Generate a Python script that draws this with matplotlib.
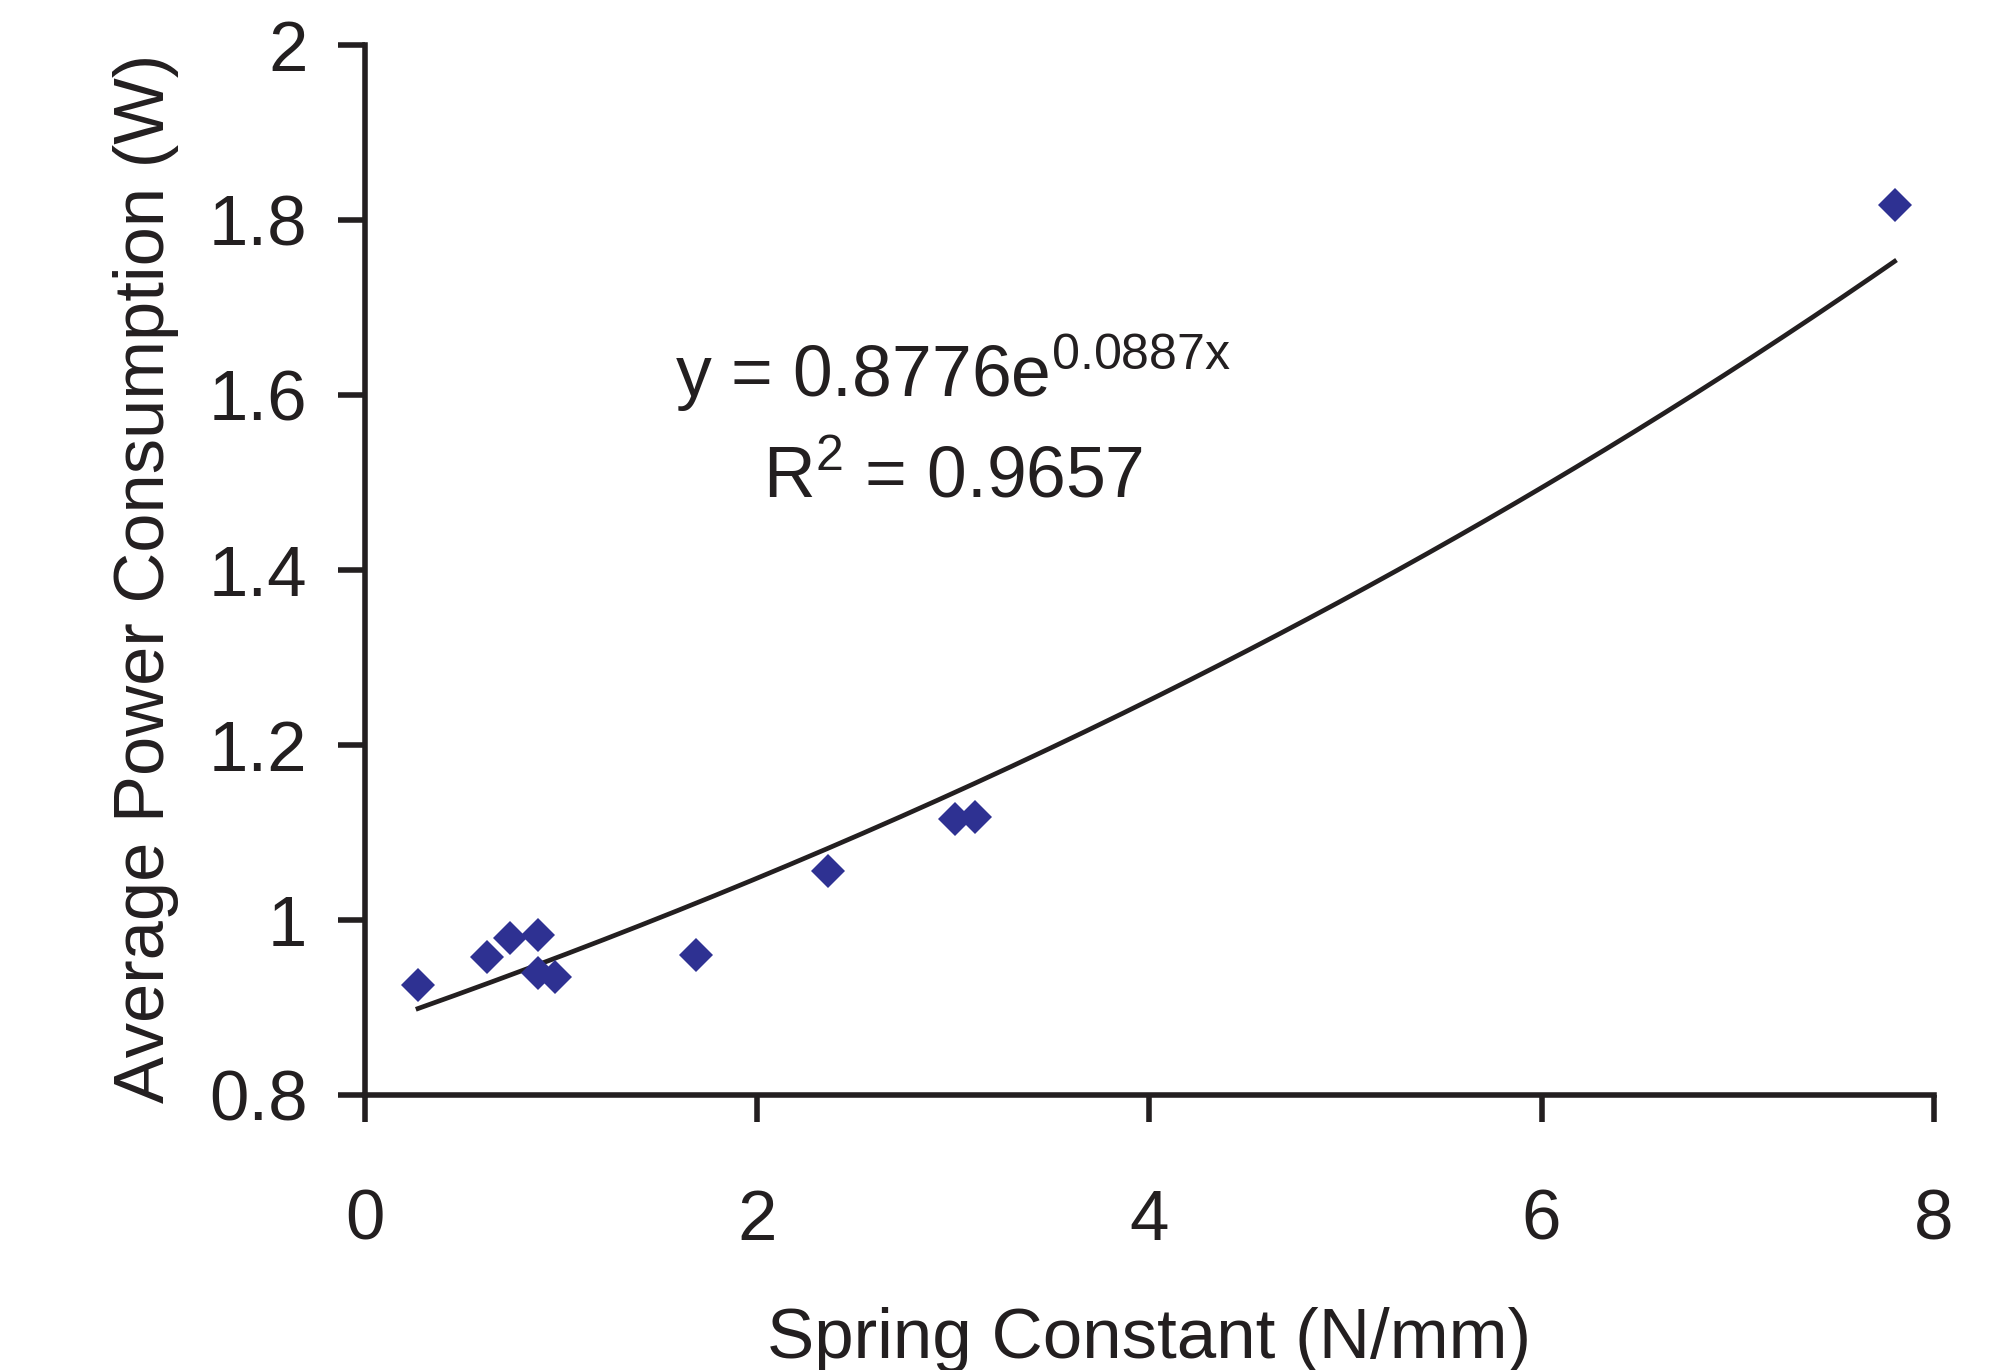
import numpy as np
import matplotlib
matplotlib.use("Agg")
import matplotlib.pyplot as plt
from matplotlib.ticker import FixedLocator, FuncFormatter

# data
spring_k = [0.27, 0.62, 0.74, 0.88, 0.88, 0.97, 1.69, 2.36, 3.01, 3.11, 7.80]
power = [0.926, 0.958, 0.979, 0.983, 0.939, 0.935, 0.960, 1.056, 1.116, 1.118, 1.817]

# exponential trendline shown on the chart
fit_a = 0.8776
fit_b = 0.0887
fit_r2 = 0.9657

x_ticks = [0, 2, 4, 6, 8]
y_ticks = [0.8, 1.0, 1.2, 1.4, 1.6, 1.8, 2.0]

ink = "#231F20"
marker_col = "#2E3192"

plt.rcParams["font.family"] = ["Liberation Sans", "DejaVu Sans"]
plt.rcParams["mathtext.fontset"] = "custom"
plt.rcParams["mathtext.rm"] = "Liberation Sans"
plt.rcParams["mathtext.it"] = "Liberation Sans"
plt.rcParams["mathtext.default"] = "regular"
plt.rcParams["text.color"] = ink

fig = plt.figure(figsize=(20.06, 13.70), dpi=100)
ax = fig.add_axes([0.182, 0.2007, 0.782, 0.7663])

# trendline
xs = np.linspace(min(spring_k), max(spring_k), 200)
ax.plot(xs, fit_a * np.exp(fit_b * xs), color=ink, lw=3.4, zorder=2)

# measured points
ax.plot(spring_k, power, linestyle="none", marker="D", ms=17,
        color=marker_col, markeredgewidth=0, zorder=3)

ax.set_xlim(0, 8)
ax.set_ylim(0.8, 2.0)
ax.xaxis.set_major_locator(FixedLocator(x_ticks))
ax.yaxis.set_major_locator(FixedLocator(y_ticks))
ax.yaxis.set_major_formatter(FuncFormatter(lambda v, p: f"{v:g}"))

for s in ("top", "right"):
    ax.spines[s].set_visible(False)
for s in ("left", "bottom"):
    ax.spines[s].set_linewidth(4.0)
    ax.spines[s].set_color(ink)

ax.tick_params(axis="both", direction="out", length=19.5, width=4.0,
               color=ink, labelsize=51, labelcolor=ink)
ax.tick_params(axis="x", pad=48)
ax.tick_params(axis="y", pad=22)

fig.text(0.573, 0.009, "Spring Constant (N/mm)", fontsize=51,
         ha="center", va="baseline")
fig.text(0.073, 0.578, "Average Power Consumption (W)", fontsize=50.8,
         rotation=90, ha="center", va="center")

fig.text(0.475, 0.710, r"y = 0.8776e$^{0.0887x}$", fontsize=51.5,
         ha="center", va="baseline")
fig.text(0.475, 0.637, f"R$^2$ = {fit_r2}", fontsize=51.5,
         ha="center", va="baseline")

fig.savefig("out.png", dpi=100)
